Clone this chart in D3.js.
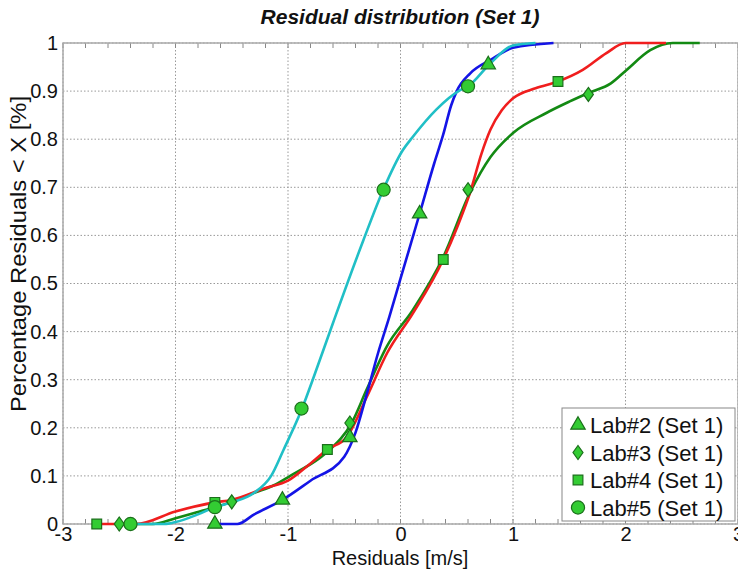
<!DOCTYPE html>
<html>
<head>
<meta charset="utf-8">
<script src="https://cdn.jsdelivr.net/npm/d3@7/dist/d3.min.js"></script>
<style>
    body { margin: 0; background: #fff; }
    text { font-family: 'Liberation Sans', Arial, sans-serif; fill: #111; }
</style>
</head>
<body>
<div id="chart-area"></div>
<script>
// values
const xTicks = [-3, -2, -1, 0, 1, 2, 3];
const xTickLabels = ['-3', '-2', '-1', '0', '1', '2', '3'];
const yTicks = [0, 0.1, 0.2, 0.3, 0.4, 0.5, 0.6, 0.7, 0.8, 0.9, 1];
const yTickLabels = ['0', '0.1', '0.2', '0.3', '0.4', '0.5', '0.6', '0.7', '0.8', '0.9', '1'];
const legendLabels = ['Lab#2 (Set 1)', 'Lab#3 (Set 1)', 'Lab#4 (Set 1)', 'Lab#5 (Set 1)'];

// Lab#2 - blue curve, triangles
const lab2X = [-1.65, -1.45, -1.3, -1.05, -0.8, -0.5, -0.4, -0.3, -0.2, -0.1, 0, 0.17, 0.3, 0.38, 0.45, 0.5, 0.62, 0.8, 1.0, 1.36];
const lab2Y = [0, 0, 0.02, 0.05, 0.09, 0.14, 0.19, 0.27, 0.355, 0.43, 0.51, 0.645, 0.75, 0.81, 0.87, 0.9, 0.937, 0.965, 0.99, 1];
const lab2MarkX = [-1.65, -1.05, -0.45, 0.17, 0.78];
const lab2MarkY = [0, 0.05, 0.18, 0.645, 0.955];

// Lab#3 - green curve, diamonds
const lab3X = [-2.5, -2.2, -2.0, -1.8, -1.65, -1.5, -1.3, -1.13, -0.98, -0.72, -0.63, -0.43, -0.3, -0.12, 0.11, 0.38, 0.62, 0.8, 1.0, 1.3, 1.5, 1.67, 1.87, 2.01, 2.22, 2.42, 2.66];
const lab3Y = [0, 0, 0.012, 0.025, 0.035, 0.046, 0.065, 0.08, 0.1, 0.137, 0.154, 0.212, 0.28, 0.37, 0.445, 0.555, 0.69, 0.763, 0.813, 0.855, 0.878, 0.896, 0.916, 0.944, 0.985, 1, 1];
const lab3MarkX = [-2.5, -1.5, -0.45, 0.6, 1.67];
const lab3MarkY = [0, 0.046, 0.21, 0.695, 0.893];

// Lab#4 - red curve, squares
const lab4X = [-2.7, -2.35, -2.0, -1.65, -1.5, -1.2, -1.0, -0.8, -0.65, -0.48, -0.3, -0.12, 0.11, 0.38, 0.5, 0.62, 0.72, 0.8, 0.9, 1.0, 1.2, 1.4, 1.62, 1.83, 2.0, 2.36];
const lab4Y = [0, 0, 0.026, 0.045, 0.05, 0.075, 0.09, 0.126, 0.155, 0.18, 0.264, 0.355, 0.438, 0.55, 0.615, 0.69, 0.77, 0.82, 0.86, 0.885, 0.906, 0.92, 0.944, 0.979, 1, 1];
const lab4MarkX = [-2.7, -1.65, -0.65, 0.38, 1.4];
const lab4MarkY = [0, 0.045, 0.155, 0.55, 0.92];

// Lab#5 - cyan curve, circles
const lab5X = [-2.4, -2.1, -2.0, -1.8, -1.65, -1.5, -1.3, -1.15, -1.04, -0.875, -0.78, -0.6, -0.33, -0.155, 0.02, 0.11, 0.32, 0.53, 0.6, 0.8, 1.0, 1.2];
const lab5Y = [0, 0, 0.004, 0.02, 0.035, 0.045, 0.065, 0.1, 0.154, 0.24, 0.3, 0.418, 0.59, 0.694, 0.777, 0.805, 0.862, 0.902, 0.91, 0.958, 0.995, 1];
const lab5MarkX = [-2.4, -1.65, -0.88, -0.15, 0.6];
const lab5MarkY = [0, 0.035, 0.24, 0.695, 0.91];

const margin = { left: 63, right: 0, top: 43, bottom: 46 };
const width = 738 - margin.left - margin.right;
const height = 570 - margin.top - margin.bottom;

const svg = d3.select('#chart-area')
    .append('svg')
    .attr('width', 738)
    .attr('height', 570);

const g = svg.append('g')
    .attr('transform', 'translate(' + margin.left + ', ' + margin.top + ')');

const x = d3.scaleLinear().domain([-3, 3]).range([0, width]);
const y = d3.scaleLinear().domain([0, 1]).range([height, 0]);

// grid
g.selectAll('.vgrid')
    .data(xTicks)
    .enter().append('line')
    .attr('x1', d => x(d)).attr('x2', d => x(d))
    .attr('y1', 0).attr('y2', height)
    .attr('stroke', '#999').attr('stroke-dasharray', '1.5,2');

g.selectAll('.hgrid')
    .data(yTicks)
    .enter().append('line')
    .attr('x1', 0).attr('x2', width)
    .attr('y1', d => y(d)).attr('y2', d => y(d))
    .attr('stroke', '#999').attr('stroke-dasharray', '1.5,2');

// minor ticks top and bottom
const minor = d3.range(-3, 3.01, 0.2);
g.selectAll('.mtop')
    .data(minor)
    .enter().append('line')
    .attr('x1', d => x(d)).attr('x2', d => x(d))
    .attr('y1', 0).attr('y2', 5)
    .attr('stroke', '#888');
g.selectAll('.mbot')
    .data(minor)
    .enter().append('line')
    .attr('x1', d => x(d)).attr('x2', d => x(d))
    .attr('y1', height).attr('y2', height - 5)
    .attr('stroke', '#888');

// frame
g.append('rect')
    .attr('x', 0).attr('y', 0)
    .attr('width', width).attr('height', height)
    .attr('fill', 'none')
    .attr('stroke', '#aaa')
    .attr('stroke-width', 1.5);

// tick labels via d3 axes
const xAxis = d3.axisBottom(x).tickValues(xTicks).tickSize(0).tickPadding(3)
    .tickFormat((d, i) => xTickLabels[i]);
const yAxis = d3.axisLeft(y).tickValues(yTicks).tickSize(0).tickPadding(5)
    .tickFormat((d, i) => yTickLabels[i]);

const gx = g.append('g').attr('transform', 'translate(0,' + height + ')').call(xAxis);
const gy = g.append('g').call(yAxis);
[gx, gy].forEach(a => {
    a.select('.domain').remove();
    a.selectAll('text')
        .style('font-family', "'Liberation Sans', Arial, sans-serif")
        .style('font-size', '20px')
        .attr('fill', '#111');
});

// curves
const series = [
    { xs: lab3X, ys: lab3Y, mx: lab3MarkX, my: lab3MarkY, color: '#138a13', shape: 'diamond' },
    { xs: lab4X, ys: lab4Y, mx: lab4MarkX, my: lab4MarkY, color: '#f01e1e', shape: 'square' },
    { xs: lab2X, ys: lab2Y, mx: lab2MarkX, my: lab2MarkY, color: '#1414e6', shape: 'triangle' },
    { xs: lab5X, ys: lab5Y, mx: lab5MarkX, my: lab5MarkY, color: '#20bfc6', shape: 'circle' }
];

const line = d3.line()
    .x(d => x(d[0]))
    .y(d => y(d[1]))
    .curve(d3.curveMonotoneX);

series.forEach(s => {
    g.append('path')
        .datum(d3.zip(s.xs, s.ys))
        .attr('d', line)
        .attr('fill', 'none')
        .attr('stroke', s.color)
        .attr('stroke-width', 2.6);
});

const markFill = '#33cc33';
const markStroke = '#1b6f1b';

function symbolPath(shape) {
    if (shape === 'diamond') return 'M0,-7L5,0L0,7L-5,0Z';
    if (shape === 'square') return d3.symbol(d3.symbolSquare).size(95)();
    if (shape === 'triangle') return d3.symbol(d3.symbolTriangle).size(90)();
    return d3.symbol(d3.symbolCircle).size(135)();
}

series.forEach(s => {
    g.selectAll(null)
        .data(d3.zip(s.mx, s.my))
        .enter().append('path')
        .attr('d', symbolPath(s.shape))
        .attr('transform', d => 'translate(' + x(d[0]) + ',' + y(d[1]) + ')')
        .attr('fill', markFill)
        .attr('stroke', markStroke)
        .attr('stroke-width', 1.2);
});

// title and axis titles
svg.append('text')
    .attr('x', 400).attr('y', 24)
    .attr('text-anchor', 'middle')
    .style('font-size', '21px')
    .style('font-weight', 'bold')
    .style('font-style', 'italic')
    .text('Residual distribution (Set 1)');

svg.append('text')
    .attr('x', 400).attr('y', 565)
    .attr('text-anchor', 'middle')
    .style('font-size', '20px')
    .text('Residuals [m/s]');

svg.append('text')
    .attr('transform', 'translate(26,254) rotate(-90) scale(1.08,1)')
    .attr('text-anchor', 'middle')
    .style('font-size', '22px')
    .text('Percentage Residuals < X [%]');

// legend
const legendOrder = [series[2], series[0], series[1], series[3]];
const lg = svg.append('g').attr('transform', 'translate(562,408)');
lg.append('rect')
    .attr('width', 173).attr('height', 113)
    .attr('fill', '#fff')
    .attr('stroke', '#888');

legendLabels.forEach((lab, i) => {
    const row = lg.append('g').attr('transform', 'translate(16,' + (17 + i * 27.5) + ')');
    row.append('path')
        .attr('d', symbolPath(legendOrder[i].shape))
        .attr('fill', markFill)
        .attr('stroke', markStroke)
        .attr('stroke-width', 1.2);
    row.append('text')
        .attr('x', 12).attr('y', 8)
        .style('font-size', '22px')
        .text(lab);
});
</script>
</body>
</html>
